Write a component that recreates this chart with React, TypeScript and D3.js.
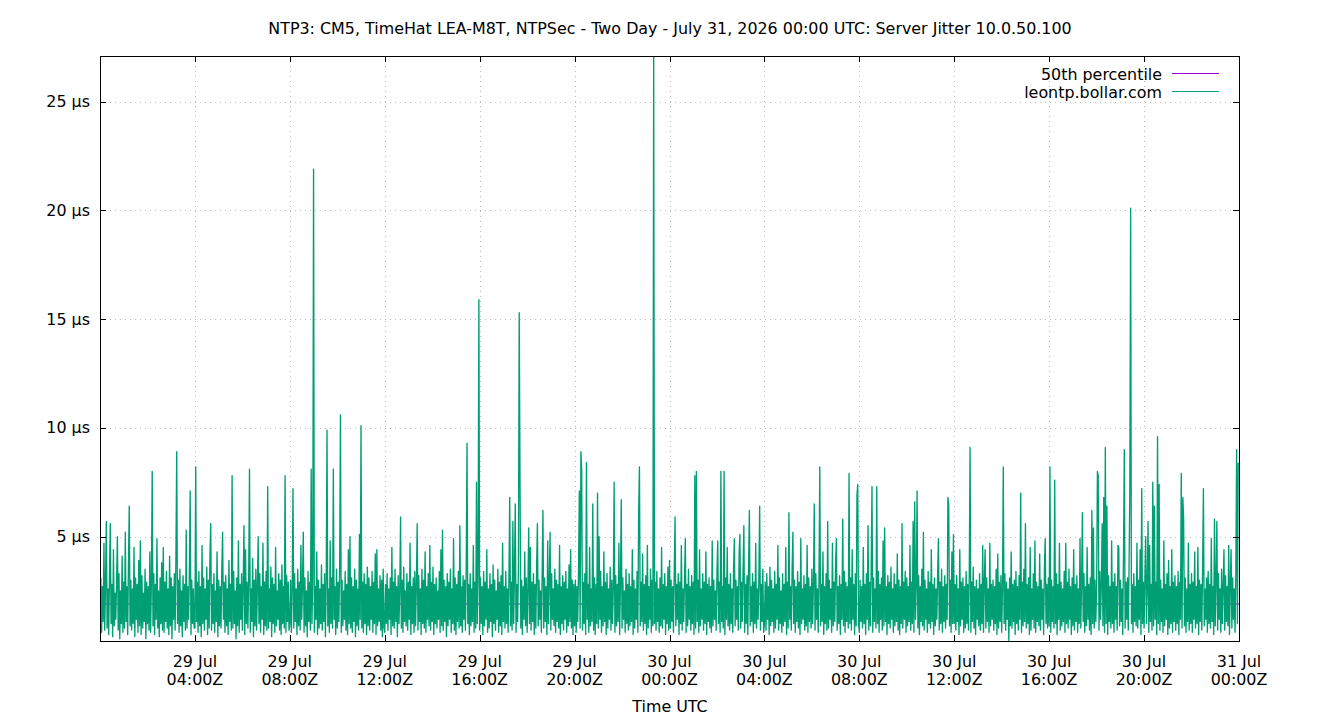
import React from 'react';
import * as d3 from 'd3';

// Server jitter samples, one every 2 minutes, in tenths of a microsecond.
// Split into 4-hour blocks starting at the hour in the name (UTC).
const jul29_00 = [
  9,31,6,27,11,47,7,29,57,8,26,5,33,56,10,28,4,44,9,24,
  12,30,50,7,33,3,25,10,41,6,29,8,52,11,27,5,38,64,9,30,
  7,26,10,45,4,31,12,28,6,39,9,48,5,32,8,24,11,35,3,29,
  10,27,7,43,6,30,80,9,33,5,28,12,49,8,25,4,31,10,38,7,
  45,6,29,11,34,8,26,5,41,9,31,3,27,12,33,7,42,89,10,30,
  6,35,9,25,4,32,11,28,7,53,8,27,12,33,71,5,30,10,26,8,
];
const jul29_04 = [
  8,82,11,29,6,34,9,27,4,46,10,31,7,26,12,36,5,30,8,41,
  56,7,28,10,33,6,25,11,43,4,30,9,27,8,35,52,12,29,6,32,
  9,26,5,39,11,28,7,78,8,34,10,25,3,31,9,48,6,28,12,33,
  7,27,55,5,44,10,29,8,31,81,6,26,11,40,4,30,9,35,7,28,
  50,10,33,6,27,12,47,5,29,9,34,7,73,8,26,11,36,4,31,10,
  28,6,45,9,25,12,33,7,30,5,37,10,27,8,78,6,32,11,29,7,
];
const jul29_08 = [
  10,30,6,27,72,8,33,11,26,5,35,9,29,7,46,12,28,52,6,31,
  9,25,4,34,11,29,7,81,10,32,219,6,27,12,43,5,30,8,26,10,
  37,7,28,11,33,4,29,99,9,26,6,48,10,31,8,81,12,27,5,35,
  8,29,11,36,106,6,30,9,25,12,34,7,28,5,44,10,50,8,31,6,
  27,11,35,4,30,9,26,7,51,12,101,8,29,6,33,10,28,5,36,9,
  31,7,27,12,34,6,29,10,42,5,44,9,26,11,32,7,30,4,35,8,
];
const jul29_12 = [
  6,28,10,33,7,26,12,31,5,45,9,29,8,35,11,27,4,32,10,26,
  59,8,30,6,36,11,25,9,33,7,29,12,47,5,27,10,31,6,34,9,
  28,56,7,32,11,26,5,35,10,30,8,43,6,27,12,33,9,46,7,29,
  11,36,5,28,10,31,8,25,12,34,6,44,9,53,7,30,11,27,4,33,
  9,29,12,35,6,26,10,49,7,31,5,28,11,34,8,55,9,27,6,32,
  12,30,7,36,93,10,28,5,33,9,26,11,46,6,29,8,75,10,32,159,
];
const jul29_16 = [
  7,31,10,27,5,34,9,29,12,44,6,26,8,33,11,28,4,37,10,30,
  7,25,12,35,6,29,9,32,5,47,11,27,8,34,10,26,6,31,68,9,
  29,7,57,10,33,65,6,28,11,36,153,76,8,30,5,27,12,43,9,31,
  6,26,54,10,45,7,29,11,33,5,28,8,36,56,9,30,12,25,6,34,
  62,8,31,11,27,5,48,10,29,52,7,33,12,26,9,35,6,30,11,28,
  8,46,5,27,10,32,7,29,12,34,6,26,9,37,11,44,8,30,5,28,
];
const jul29_20 = [
  9,30,6,27,11,35,71,8,89,80,7,29,10,33,5,84,12,28,6,45,
  9,26,11,65,7,31,5,28,10,70,8,50,12,34,6,27,9,43,11,29,
  5,33,8,26,12,36,7,30,10,27,75,6,32,9,28,11,47,5,29,67,
  8,31,12,25,6,35,10,28,7,33,9,27,11,44,5,30,8,26,12,34,
  6,61,82,9,29,11,42,7,28,10,32,5,46,8,27,12,35,6,30,9,
  271,10,29,7,34,11,26,6,31,9,45,8,28,12,33,5,27,10,36,7,
];
const jul30_00 = [
  39,8,30,11,27,6,34,59,9,28,12,33,5,29,10,46,7,26,11,31,
  49,6,28,9,35,12,27,7,32,10,29,5,78,8,80,11,30,6,44,9,
  26,12,33,7,29,10,43,5,28,11,31,8,27,6,48,9,30,12,25,7,
  34,48,10,29,6,80,11,27,8,80,5,31,12,45,9,28,7,33,10,26,
  6,35,49,9,30,12,27,7,42,51,8,29,11,34,55,6,28,10,32,5,
  38,62,9,27,11,33,6,29,10,47,8,26,12,31,64,7,28,11,35,6,
];
const jul30_04 = [
  10,29,7,33,12,27,5,36,9,30,11,26,6,34,8,28,12,46,7,31,
  10,25,6,33,9,28,11,45,5,29,8,61,12,27,7,35,52,10,30,6,
  27,11,34,8,29,5,49,10,26,12,32,7,28,9,46,6,31,11,27,8,
  35,10,29,65,7,33,12,26,6,30,82,9,28,11,43,5,27,10,33,7,
  57,8,30,12,26,6,47,9,29,11,38,49,7,27,10,32,5,28,12,58,
  9,34,6,29,11,27,8,79,10,31,7,44,12,28,5,33,9,69,74,10,
];
const jul30_08 = [
  6,30,11,27,8,45,10,28,5,33,12,55,7,29,9,36,73,6,31,11,
  26,8,73,10,34,6,28,12,31,7,48,9,54,11,27,5,32,10,29,8,
  36,12,26,6,33,9,28,11,42,7,30,5,27,10,56,8,29,12,34,6,
  31,9,27,11,46,7,29,10,57,6,66,12,28,71,8,32,5,27,11,35,
  9,52,7,30,12,26,6,34,10,29,8,44,11,28,5,31,9,26,12,33,
  49,7,29,10,35,6,27,11,32,8,28,12,68,65,9,30,6,43,10,51,
];
const jul30_12 = [
  10,28,7,32,11,26,5,44,9,29,12,31,6,27,8,34,10,28,7,33,
  91,6,29,11,36,8,27,5,30,12,26,9,33,7,28,10,46,6,29,44,
  8,31,11,26,6,47,9,28,12,30,7,27,10,35,5,42,8,29,11,32,
  6,27,82,10,33,7,29,12,26,2,31,9,43,8,28,11,30,5,34,10,
  27,7,32,12,70,6,29,9,35,11,56,8,28,10,31,5,45,7,26,12,
  33,8,48,6,29,11,27,9,42,7,30,12,26,5,36,49,10,28,8,31,
];
const jul30_16 = [
  9,82,6,30,11,27,8,76,10,33,5,28,12,47,7,29,9,26,11,34,
  6,47,10,29,8,35,12,27,5,31,9,44,7,28,11,32,6,26,10,49,
  8,29,61,11,33,6,27,9,45,12,28,7,31,5,62,10,54,8,30,11,
  26,80,78,7,34,12,29,56,9,68,6,91,10,64,5,32,11,27,8,48,
  10,29,6,33,12,27,7,46,45,9,30,11,26,5,43,90,8,29,12,31,
  7,36,72,201,10,28,6,33,11,27,9,47,8,30,12,44,5,72,10,29,
];
const jul30_20 = [
  8,31,50,10,27,57,6,46,11,28,7,75,9,64,12,29,5,96,10,74,
  7,30,11,26,6,48,9,28,12,33,5,39,8,27,10,44,6,29,11,32,
  7,27,10,34,5,29,12,79,8,68,58,9,31,6,26,11,47,7,28,10,
  33,6,29,12,43,8,27,10,45,5,30,11,28,7,36,72,9,26,12,31,
  6,34,10,28,8,49,11,27,5,58,9,30,57,7,33,12,26,6,35,10,
  28,44,7,32,11,27,9,46,5,29,44,8,31,12,26,6,34,90,10,84,
];

// 50th percentile of the jitter, µs
const median50 = 1.9;

const yTickValues = [5, 10, 15, 20, 25];
const seriesNames = ['50th percentile', 'leontp.bollar.com'];
const seriesColors = ['#9400d3', '#009e73'];

const W = 1340;
const H = 720;
const left = 100;
const right = 1239;
const top = 56;
const bottom = 641;
const FONT = '"DejaVu Sans", sans-serif';
const FS = 15.9;

const start = Date.UTC(2026, 6, 29, 0, 0);
const end = Date.UTC(2026, 6, 31, 0, 0);
const step = 2 * 60 * 1000;

const blocks = [jul29_00, jul29_04, jul29_08, jul29_12, jul29_16, jul29_20,
  jul30_00, jul30_04, jul30_08, jul30_12, jul30_16, jul30_20];
const samples = blocks.flat().map((v, i) => ({ t: new Date(start + i * step), v: v / 10 }));

export default function App() {
  const x = d3.scaleUtc().domain([new Date(start), new Date(end)]).range([left, right]);
  const ext = d3.extent(samples, d => d.v) as [number, number];
  const y = d3.scaleLinear().domain(ext).range([bottom, top]);

  const line = d3.line<{ t: Date; v: number }>().x(d => x(d.t)).y(d => y(d.v));
  const xTicks = d3.utcHour.every(4)!.range(new Date(start + 4 * 3600e3), new Date(end + 1));
  const fmtDay = d3.utcFormat('%d %b');
  const fmtHour = d3.utcFormat('%H:%MZ');

  const tickLen = 6;

  return (
    <svg width={W} height={H} style={{ position: 'absolute', left: 0, top: 0, background: '#fff' }}
      fontFamily={FONT} fontSize={FS}>
      <defs>
        <clipPath id="plot-clip">
          <rect x={left} y={top} width={right - left} height={bottom - top} />
        </clipPath>
      </defs>
      <rect width={W} height={H} fill="#fff" />

      {/* grid */}
      <g stroke="#bdbdbd" strokeWidth={1} strokeDasharray="1,4">
        {yTickValues.map(v => (
          <line key={'gy' + v} x1={left} x2={right} y1={Math.round(y(v)) + 0.5} y2={Math.round(y(v)) + 0.5} />
        ))}
        {xTicks.map(t => (
          <line key={'gx' + +t} x1={Math.round(x(t)) + 0.5} x2={Math.round(x(t)) + 0.5} y1={top} y2={bottom} />
        ))}
      </g>

      {/* series: median first, jitter drawn over it */}
      <g clipPath="url(#plot-clip)" fill="none">
        <line x1={left} x2={right} y1={y(median50)} y2={y(median50)} stroke={seriesColors[0]} strokeWidth={1} />
        <path d={line(samples) || ''} stroke={seriesColors[1]} strokeWidth={1.35} strokeLinejoin="round" />
      </g>

      {/* border */}
      <rect x={left + 0.5} y={top + 0.5} width={right - left} height={bottom - top} fill="none" stroke="#000" strokeWidth={1} />

      {/* ticks on all four sides */}
      <g stroke="#000" strokeWidth={1}>
        {yTickValues.map(v => {
          const yy = Math.round(y(v)) + 0.5;
          return (
            <g key={'ty' + v}>
              <line x1={left} x2={left + tickLen} y1={yy} y2={yy} />
              <line x1={right - tickLen} x2={right} y1={yy} y2={yy} />
            </g>
          );
        })}
        {xTicks.map(t => {
          const xx = Math.round(x(t)) + 0.5;
          return (
            <g key={'tx' + +t}>
              <line x1={xx} x2={xx} y1={bottom} y2={bottom - tickLen} />
              <line x1={xx} x2={xx} y1={top} y2={top + tickLen} />
            </g>
          );
        })}
      </g>

      {/* y labels */}
      {yTickValues.map(v => (
        <text key={'ly' + v} x={90} y={y(v)} dy="0.35em" textAnchor="end" fill="#000">{v} µs</text>
      ))}

      {/* x labels */}
      {xTicks.map(t => (
        <text key={'lx' + +t} x={x(t)} textAnchor="middle" fill="#000">
          <tspan x={x(t)} y={667}>{fmtDay(t)}</tspan>
          <tspan x={x(t)} y={685}>{fmtHour(t)}</tspan>
        </text>
      ))}

      <text x={670} y={712} textAnchor="middle" fill="#000">Time UTC</text>
      <text x={670} y={34} textAnchor="middle" fill="#000">
        NTP3: CM5, TimeHat LEA-M8T, NTPSec - Two Day - July 31, 2026 00:00 UTC: Server Jitter 10.0.50.100
      </text>

      {/* legend */}
      {seriesNames.map((n, i) => (
        <g key={n}>
          <text x={1162} y={74.5 + i * 18} dy="0.35em" textAnchor="end" fill="#000">{n}</text>
          <line x1={1172} x2={1219} y1={73.5 + i * 18} y2={73.5 + i * 18} stroke={seriesColors[i]} strokeWidth={1} />
        </g>
      ))}
    </svg>
  );
}
